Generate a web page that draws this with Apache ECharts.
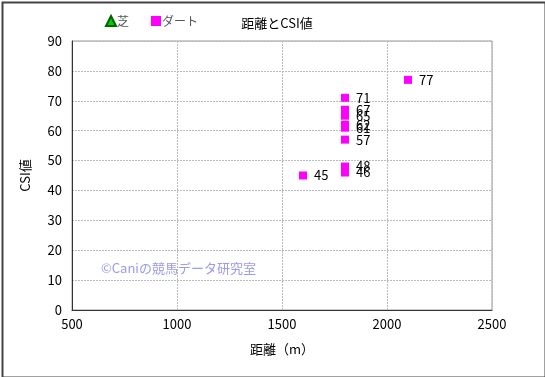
<!DOCTYPE html>
<html>
<head>
<meta charset="utf-8">
<script src="https://cdn.jsdelivr.net/npm/echarts@6/dist/echarts.min.js"></script>
<style>
  html, body { margin: 0; padding: 0; background: #fff; }
  #chart { width: 545px; height: 377px; }
</style>
</head>
<body>
<div id="chart"></div>
<script>
var turfDist = [];
var turfCsi = [];
var dirtDist = [1800, 1800, 1800, 1800, 1800, 1800, 1800, 1800, 1600, 2100];
var dirtCsi = [71, 67, 65, 62, 61, 57, 48, 46, 45, 77];

var font = '"Noto Sans CJK JP", sans-serif';

var chart = echarts.init(document.getElementById('chart'));
var option = {
    animation: false,
    title: {
        text: '距離とCSI値',
        left: 272,
        top: 12,
        textAlign: 'center',
        textStyle: { color: '#000', fontSize: 13, fontWeight: 'normal', fontFamily: font }
    },
    legend: {
        left: 100,
        top: 10,
        itemGap: 22,
        itemWidth: 10,
        itemHeight: 10,
        textStyle: { color: '#555', fontSize: 12, fontFamily: font, padding: [0, 0, 0, -4] },
        data: [
            { name: '芝', icon: 'triangle' },
            { name: 'ダート', icon: 'rect' }
        ]
    },
    grid: {
        left: 72,
        right: 53,
        top: 41,
        bottom: 67,
        show: true,
        borderColor: '#999',
        borderWidth: 1
    },
    xAxis: {
        type: 'value',
        min: 500,
        max: 2500,
        interval: 500,
        name: '距離（m）',
        nameLocation: 'middle',
        nameGap: 33,
        nameTextStyle: { color: '#000', fontSize: 13, fontFamily: font },
        axisLine: { show: true, lineStyle: { color: '#333', width: 1 } },
        axisTick: { show: false },
        axisLabel: { color: '#000', fontSize: 13, margin: 8, fontFamily: font,
            formatter: function (v) { return String(v); } },
        splitLine: { show: true, lineStyle: { color: '#bbb', type: [2, 1] } }
    },
    yAxis: {
        type: 'value',
        min: 0,
        max: 90,
        interval: 10,
        name: 'CSI値',
        nameLocation: 'middle',
        nameGap: 40,
        nameTextStyle: { color: '#000', fontSize: 13, fontFamily: font },
        axisLine: { show: true, lineStyle: { color: '#333', width: 1 } },
        axisTick: { show: false },
        axisLabel: { color: '#000', fontSize: 13, margin: 10, fontFamily: font },
        splitLine: { show: true, lineStyle: { color: '#bbb', type: [2, 1] } }
    },
    graphic: [
        {
            type: 'rect',
            left: 0, top: 0,
            shape: { width: 543, height: 375 },
            style: { fill: 'none', stroke: '#444', lineWidth: 2 }
        },
        {
            type: 'text',
            left: 101,
            top: 262,
            style: {
                text: '©Caniの競馬データ研究室',
                fill: '#9b9bef',
                font: '13px ' + font
            }
        }
    ],
    series: [
        {
            name: '芝',
            type: 'scatter',
            symbol: 'triangle',
            symbolSize: 8,
            itemStyle: { color: '#00cc00', borderColor: '#006600', borderWidth: 0.5, opacity: 1 },
            data: turfDist.map(function (d, i) { return [d, turfCsi[i]]; })
        },
        {
            name: 'ダート',
            type: 'scatter',
            symbol: 'rect',
            symbolSize: 8,
            itemStyle: { color: '#ff00ff', opacity: 1 },
            label: {
                show: true,
                position: 'right',
                distance: 7,
                color: '#000',
                fontSize: 13,
                fontFamily: font,
                formatter: function (p) { return p.value[1]; }
            },
            data: dirtDist.map(function (d, i) { return [d, dirtCsi[i]]; })
        }
    ]
};
chart.setOption(option);
</script>
</body>
</html>
